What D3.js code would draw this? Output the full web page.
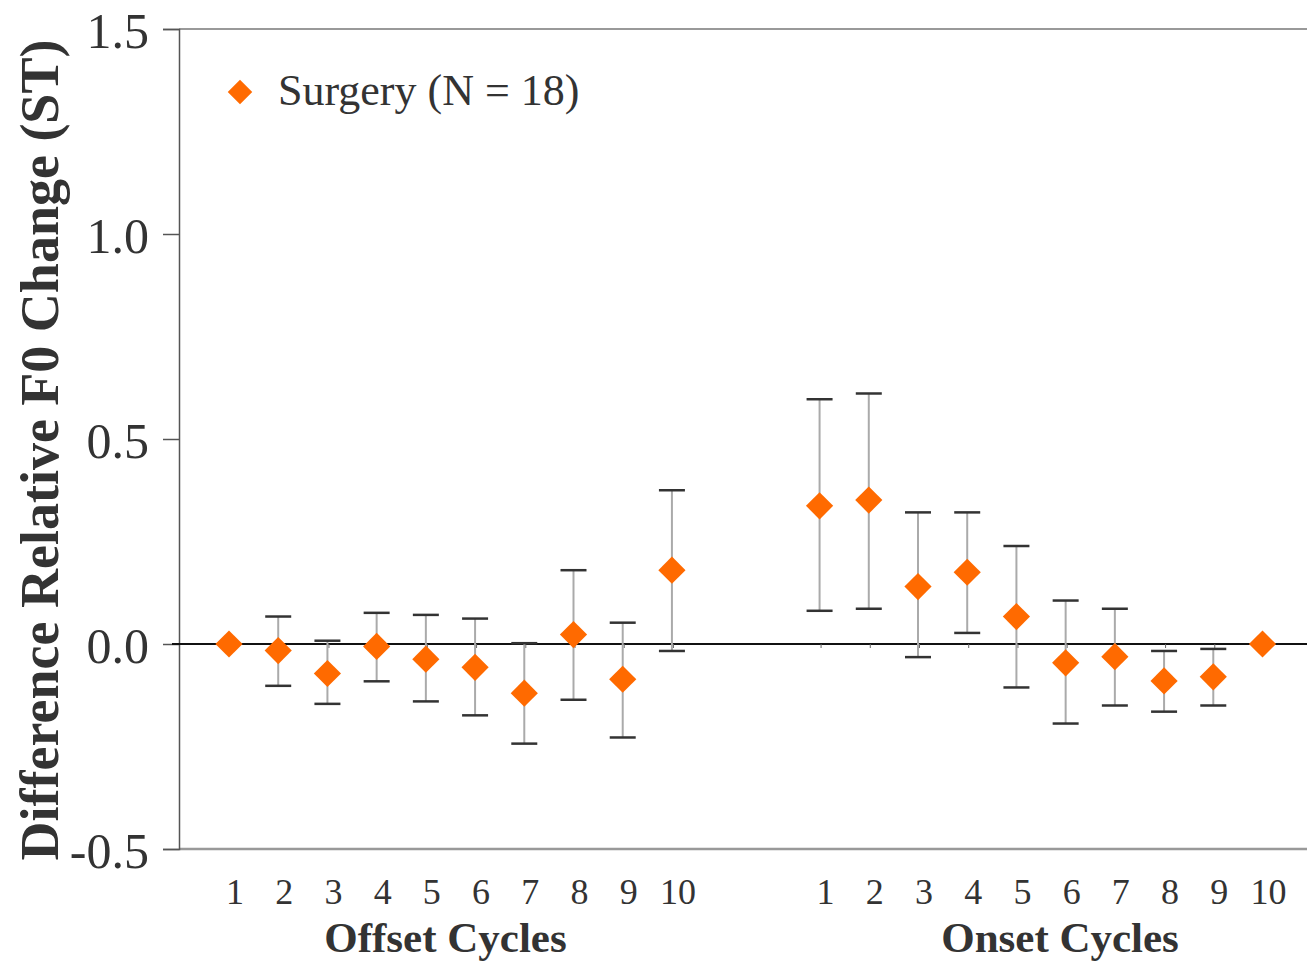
<!DOCTYPE html>
<html>
<head>
<meta charset="utf-8">
<script src="https://cdn.jsdelivr.net/npm/d3@7"></script>
<style>
  html, body { margin: 0; padding: 0; background: #fff; }
  svg { display: block; }
  text { font-family: "Liberation Serif", "Times New Roman", serif; fill: #333; }
</style>
</head>
<body>
<svg id="chart" width="1307" height="964"></svg>
<script>
// Cycle labels for the two groups
const offsetCycles = ["1", "2", "3", "4", "5", "6", "7", "8", "9", "10"];
const onsetCycles  = ["1", "2", "3", "4", "5", "6", "7", "8", "9", "10"];

// Mean difference in relative F0 change (ST) with error-bar ends
const offsetMean  = [0.000, -0.016, -0.072, -0.006, -0.037, -0.057, -0.120, 0.023, -0.086, 0.180];
const offsetUpper = [0.000,  0.067,  0.008,  0.076,  0.071,  0.062,  0.002, 0.180,  0.052, 0.375];
const offsetLower = [0.000, -0.102, -0.146, -0.091, -0.140, -0.174, -0.243, -0.136, -0.228, -0.017];

const onsetMean  = [0.337, 0.351, 0.140, 0.175, 0.067, -0.046, -0.031, -0.090, -0.080, 0.000];
const onsetUpper = [0.597, 0.611, 0.321, 0.321, 0.239,  0.106,  0.086, -0.017, -0.012, 0.000];
const onsetLower = [0.081, 0.086, -0.032, 0.027, -0.106, -0.194, -0.150, -0.165, -0.150, 0.000];

const yTicks = [-0.5, 0.0, 0.5, 1.0, 1.5];
const yTickLabels = ["-0.5", "0.0", "0.5", "1.0", "1.5"];
const seriesName = "Surgery (N = 18)";
const groupTitles = ["Offset Cycles", "Onset Cycles"];

// Offset cycles occupy slots 0-9, onset cycles slots 12-21 (two empty slots between groups)
const points = [];
offsetCycles.forEach((c, i) => points.push({ label: c, slot: i, mean: offsetMean[i], hi: offsetUpper[i], lo: offsetLower[i] }));
onsetCycles.forEach((c, i) => points.push({ label: c, slot: i + 12, mean: onsetMean[i], hi: onsetUpper[i], lo: onsetLower[i] }));

const svg = d3.select("#chart");
const plot = { left: 179, right: 1307, top: 29, bottom: 849 };

const x = d3.scaleLinear().domain([0, 21]).range([229, 1262.5]);
const y = d3.scaleLinear().domain([-0.5, 1.5]).range([plot.bottom, plot.top]);

// Frame: top and bottom rules in light gray, left axis darker
svg.append("line").attr("x1", plot.left).attr("x2", plot.right).attr("y1", plot.top).attr("y2", plot.top)
  .attr("stroke", "#999").attr("stroke-width", 2);
svg.append("line").attr("x1", plot.left).attr("x2", plot.right).attr("y1", plot.bottom).attr("y2", plot.bottom)
  .attr("stroke", "#999").attr("stroke-width", 2.5);

// Y axis
const yAxis = d3.axisLeft(y).tickValues(yTicks)
  .tickFormat((d, i) => yTickLabels[i]).tickSize(16).tickPadding(14);
const gy = svg.append("g").attr("transform", `translate(${plot.left},0)`).call(yAxis);
gy.select(".domain").attr("stroke", "#555").attr("stroke-width", 1.5);
gy.selectAll(".tick line").attr("stroke", "#555").attr("stroke-width", 1.5);
gy.selectAll(".tick text").attr("font-size", 50).attr("fill", "#333")
  .attr("font-family", "Liberation Serif, serif").attr("dy", "0.36em");

// Zero reference line with small ticks at each cycle
const zeroY = y(0);
svg.append("line").attr("x1", 172).attr("x2", plot.right).attr("y1", zeroY).attr("y2", zeroY)
  .attr("stroke", "#111").attr("stroke-width", 2);
svg.selectAll(".zt").data(points).enter().append("line")
  .attr("x1", d => x(d.slot) + 1.5).attr("x2", d => x(d.slot) + 1.5)
  .attr("y1", zeroY).attr("y2", zeroY + 4)
  .attr("stroke", "#666").attr("stroke-width", 1);

// X tick labels
svg.selectAll(".xl").data(points).enter().append("text")
  .attr("x", d => x(d.slot) + 6).attr("y", 904)
  .attr("text-anchor", "middle").attr("font-size", 36)
  .text(d => d.label);

// Group titles
const groupCenters = [(x(0) + x(9)) / 2 - 5, (x(12) + x(21)) / 2 + 19];
groupTitles.forEach((t, i) => {
  svg.append("text").attr("x", groupCenters[i]).attr("y", 952)
    .attr("text-anchor", "middle").attr("font-size", 43).attr("font-weight", "bold")
    .text(t);
});

// Y axis title
svg.append("text")
  .attr("transform", `translate(58,450) rotate(-90)`)
  .attr("text-anchor", "middle").attr("font-size", 54).attr("font-weight", "bold")
  .text("Difference Relative F0 Change (ST)");

// Error bars
const bars = points.filter(d => d.hi !== d.lo);
svg.selectAll(".eb").data(bars).enter().append("line")
  .attr("x1", d => x(d.slot)).attr("x2", d => x(d.slot))
  .attr("y1", d => y(d.hi)).attr("y2", d => y(d.lo))
  .attr("stroke", "#aaa").attr("stroke-width", 2);
const capW = 13;
["hi", "lo"].forEach(k => {
  svg.selectAll(".cap-" + k).data(bars).enter().append("line")
    .attr("x1", d => x(d.slot) - capW).attr("x2", d => x(d.slot) + capW)
    .attr("y1", d => y(d[k])).attr("y2", d => y(d[k]))
    .attr("stroke", "#333").attr("stroke-width", 2.5);
});

// Diamond markers
const diamond = d3.symbol().type(d3.symbolSquare).size(370);
svg.selectAll(".pt").data(points).enter().append("path")
  .attr("d", diamond)
  .attr("transform", d => `translate(${x(d.slot)},${y(d.mean)}) rotate(45)`)
  .attr("fill", "#FF6A00");

// Legend
svg.append("path").attr("d", d3.symbol().type(d3.symbolSquare).size(300))
  .attr("transform", "translate(240,92) rotate(45)").attr("fill", "#FF6A00");
svg.append("text").attr("x", 278).attr("y", 105).attr("font-size", 44).text(seriesName);
</script>
</body>
</html>
